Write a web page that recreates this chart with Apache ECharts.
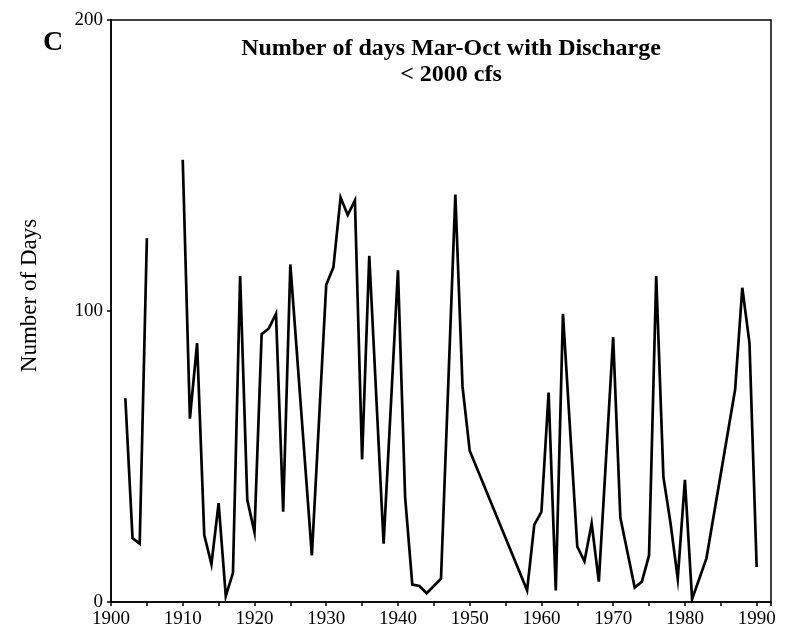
<!DOCTYPE html>
<html>
<head>
<meta charset="utf-8">
<script src="https://cdn.jsdelivr.net/npm/echarts@6/dist/echarts.min.js"></script>
<style>html,body{margin:0;padding:0;background:#fff}#c{width:789px;height:633px}</style>
</head>
<body>
<div id="c"></div>
<script>
// Years (x) and number of days (y); null marks the gap in the record
const years = [1902,1903,1904,1905,1907,1910,1911,1912,1913,1914,1915,1916,1917,1918,1919,1920,1921,1922,1923,1924,1925,1928,1930,1931,1932,1933,1934,1935,1936,1938,1940,1941,1942,1943,1944,1946,1948,1949,1950,1958,1959,1960,1961,1962,1963,1965,1966,1967,1968,1970,1971,1972,1973,1974,1975,1976,1977,1978,1979,1980,1981,1983,1987,1988,1989,1990];
const days  = [70,22,20,125,null,152,63,89,23,13,34,2,10,112,35,24,92,94,99,31,116,16,109,115,139,133,138,49,119,20,114,36,6,5.5,3,8,140,74,52,4,26.5,31,72,4,99,19,14,27,7,91,29,17,5,7,16,112,43,27,8,42,1,15,73,108,89,12];
const yTicks = [0,100,200];
const xTickLabels = [1900,1910,1920,1930,1940,1950,1960,1970,1980,1990];
const titleLines = ['Number of days Mar-Oct with Discharge','< 2000 cfs'];
const panelLetter = 'C';
const yName = 'Number of Days';

const seriesData = years.map((y,i)=>[y, days[i]===null ? '-' : days[i]]);
const serif = '"Liberation Serif","Times New Roman",serif';

const chart = echarts.init(document.getElementById('c'));
chart.setOption({
  backgroundColor:'#fff',
  animation:false,
  title:[
    {text:titleLines.join('\n'), left:446, top:31, textAlign:'center',
     textStyle:{fontFamily:serif, fontWeight:'bold', fontSize:24, color:'#000', lineHeight:26}},
    {text:panelLetter, left:38, top:24,
     textStyle:{fontFamily:serif, fontWeight:'bold', fontSize:28, color:'#000'}}
  ],
  grid:{left:111, right:18, top:20, bottom:31, show:true, borderColor:'#000', borderWidth:1.5, backgroundColor:'transparent'},
  xAxis:{type:'value', min:1900, max:1992, interval:5,
    axisLine:{show:true, lineStyle:{color:'#000', width:1.5}},
    axisTick:{show:true, inside:false, length:4, lineStyle:{color:'#000', width:1.5}},
    splitLine:{show:false},
    axisLabel:{color:'#000', fontFamily:serif, fontSize:19, margin:8,
      formatter:v=> xTickLabels.indexOf(v)>=0 ? String(v) : ''}
  },
  yAxis:{type:'value', min:0, max:200, interval:100,
    name:yName, nameLocation:'middle', nameGap:70,
    nameTextStyle:{fontFamily:serif, fontSize:23, color:'#000', padding:[0,0,0,31]},
    axisLine:{show:true, lineStyle:{color:'#000', width:1.5}},
    axisTick:{show:true, length:4, lineStyle:{color:'#000', width:1.5}},
    splitLine:{show:false},
    axisLabel:{color:'#000', fontFamily:serif, fontSize:19, margin:8,
      formatter:v=> yTicks.indexOf(v)>=0 ? String(v) : ''}
  },
  series:[{type:'line', data:seriesData, showSymbol:false, connectNulls:false,
    lineStyle:{color:'#000', width:2.7, join:'miter'}}]
});
</script>
</body>
</html>
